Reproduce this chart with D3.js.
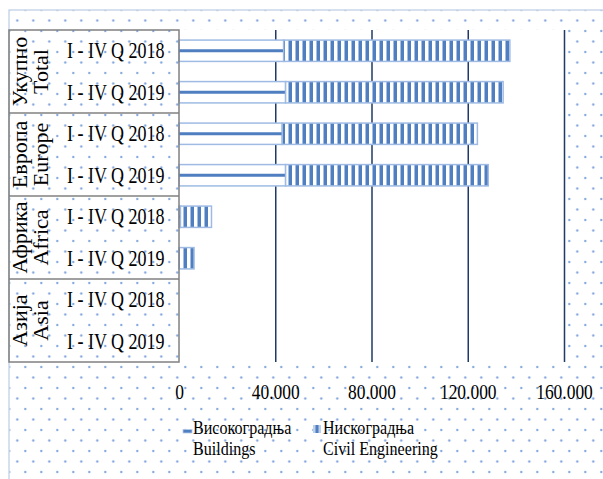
<!DOCTYPE html>
<html>
<head>
<meta charset="utf-8">
<script src="https://cdn.jsdelivr.net/npm/d3@7"></script>
<style>
  body { margin: 0; background: #fff; }
  svg text { font-family: 'Liberation Serif', 'DejaVu Serif', serif !important; fill: #000; }
</style>
</head>
<body>
<div id="chart"></div>
<script>
// data
var groupsSr = ["Укупно", "Европа", "Африка", "Азија"];
var groupsEn = ["Total", "Europe", "Africa", "Asia"];
var periods = ["I - IV Q 2018", "I - IV Q 2019"];
var buildings = [43500, 44300, 42900, 44300, 600, 0, 0, 0];
var civil = [94000, 90400, 81100, 84200, 12900, 6250, 0, 0];
var tickValues = [0, 40000, 80000, 120000, 160000];
var legendSr = ["Високоградња", "Нискоградња"];
var legendEn = ["Buildings", "Civil Engineering"];

var svgWidth = 603;
var svgHeight = 479;

var plot = { left: 179, right: 564, top: 30, bottom: 362 };

var svg = d3.select("#chart")
  .append("svg")
  .attr("width", svgWidth)
  .attr("height", svgHeight)
  .attr("font-family", "Liberation Serif");

var defs = svg.append("defs");

// dotted chart-area background
var dots = defs.append("pattern")
  .attr("id", "dots")
  .attr("patternUnits", "userSpaceOnUse")
  .attr("x", 9.3).attr("y", 10)
  .attr("width", 16).attr("height", 21);
[[0, 0], [16, 0], [0, 21], [16, 21], [8, 10.5]].forEach(function(p) {
  dots.append("circle").attr("cx", p[0]).attr("cy", p[1]).attr("r", 1.2).attr("fill", "#86a8dc");
});

// vertical stripes for civil engineering
var vstripe = defs.append("pattern")
  .attr("id", "vstripe")
  .attr("patternUnits", "userSpaceOnUse")
  .attr("x", 0).attr("y", 0)
  .attr("width", 7).attr("height", 10);
vstripe.append("rect").attr("width", 7).attr("height", 10).attr("fill", "#fff");
vstripe.append("rect").attr("x", 1.5).attr("width", 3.5).attr("height", 10).attr("fill", "#4f7fc0");

svg.append("rect")
  .attr("x", 9).attr("y", 10)
  .attr("width", svgWidth - 9).attr("height", svgHeight - 10)
  .attr("fill", "url(#dots)");

// chart border
svg.append("path")
  .attr("d", "M9," + svgHeight + "V10H" + svgWidth)
  .attr("fill", "none")
  .attr("stroke", "#c9d6ea")
  .attr("stroke-width", 1.5);

// plot area
svg.append("rect")
  .attr("x", plot.left).attr("y", plot.top)
  .attr("width", plot.right - plot.left).attr("height", plot.bottom - plot.top)
  .attr("fill", "#fff");

// build rows
var rows = [];
groupsEn.forEach(function(g, gi) {
  periods.forEach(function(p, pi) {
    var i = gi * 2 + pi;
    rows.push({ key: g + "|" + p, group: gi, period: p, buildings: buildings[i], civil: civil[i] });
  });
});

var xScale = d3.scaleLinear()
  .domain([0, 160000])
  .range([plot.left, plot.right]);

var yScale = d3.scaleBand()
  .domain(rows.map(d => d.key))
  .range([plot.top, plot.bottom])
  .paddingInner(0.45)
  .paddingOuter(0.225);

var step = yScale.step();

var fmt = d3.formatLocale({ decimal: ",", thousands: ".", grouping: [3], currency: ["", ""] }).format(",d");

// gridlines + tick labels
var bottomAxis = d3.axisBottom(xScale)
  .tickValues(tickValues)
  .tickSize(-(plot.bottom - plot.top))
  .tickFormat(fmt);

var axisG = svg.append("g")
  .attr("transform", `translate(0, ${plot.bottom})`)
  .call(bottomAxis)
  .attr("font-family", "Liberation Serif");
axisG.select(".domain").remove();
axisG.selectAll("line")
  .attr("stroke", "#1f3a68")
  .attr("stroke-width", 1.5)
  .filter(d => d === 0).remove();
axisG.selectAll("text")
  .attr("y", null).attr("dy", null)
  .attr("transform", "translate(0,37) scale(0.85,1)")
  .attr("font-size", 20.5)
  .attr("fill", "#000");

// bars: buildings
var bh = yScale.bandwidth();
svg.selectAll(".bld")
  .data(rows.filter(d => d.buildings > 0))
  .enter()
  .append("rect")
  .attr("class", "bld")
  .attr("x", xScale(0))
  .attr("y", d => yScale(d.key) + 0.75)
  .attr("width", d => xScale(d.buildings) - xScale(0))
  .attr("height", bh - 1.5)
  .attr("fill", "#fff")
  .attr("stroke", "#9fbbe3")
  .attr("stroke-width", 1.5);

svg.selectAll(".bldline")
  .data(rows.filter(d => d.buildings > 0))
  .enter()
  .append("rect")
  .attr("class", "bldline")
  .attr("x", xScale(0))
  .attr("y", d => yScale(d.key) + bh / 2 - 1.5)
  .attr("width", d => xScale(d.buildings) - xScale(0))
  .attr("height", 3)
  .attr("fill", "#4f7fc0");

// bars: civil engineering
svg.selectAll(".civ")
  .data(rows.filter(d => d.civil > 0))
  .enter()
  .append("rect")
  .attr("class", "civ")
  .attr("x", d => xScale(d.buildings))
  .attr("y", d => yScale(d.key) + 0.75)
  .attr("width", d => xScale(d.buildings + d.civil) - xScale(d.buildings))
  .attr("height", bh - 1.5)
  .attr("fill", "url(#vstripe)")
  .attr("stroke", "#9fbbe3")
  .attr("stroke-width", 1.5);

// category table
var table = svg.append("g");
table.append("rect")
  .attr("x", 9).attr("y", plot.top)
  .attr("width", plot.left - 9).attr("height", plot.bottom - plot.top)
  .attr("fill", "none")
  .attr("stroke", "#808080")
  .attr("stroke-width", 1.5);

table.selectAll(".sep")
  .data(groupsEn.slice(1))
  .enter()
  .append("line")
  .attr("x1", 9).attr("x2", plot.left)
  .attr("y1", (d, i) => yScale(groupsEn[i + 1] + "|" + periods[0]) - step * 0.225)
  .attr("y2", (d, i) => yScale(groupsEn[i + 1] + "|" + periods[0]) - step * 0.225)
  .attr("stroke", "#808080")
  .attr("stroke-width", 1.5);

table.selectAll(".sub")
  .data(rows)
  .enter()
  .append("text")
  .attr("transform", d => `translate(67, ${yScale(d.key) + bh / 2 + 7.5}) scale(0.8,1)`)
  .attr("font-size", 22.5)
  .text(d => d.period);

var grp = table.selectAll(".grp")
  .data(groupsEn)
  .enter()
  .append("g")
  .attr("transform", (d, i) => `translate(0, ${yScale(d + "|" + periods[0]) - step * 0.225 + step})`);

grp.append("text")
  .attr("transform", "translate(27,0) rotate(-90)")
  .attr("text-anchor", "middle")
  .attr("font-size", 22)
  .text((d, i) => groupsSr[i]);

grp.append("text")
  .attr("transform", "translate(48,0) rotate(-90)")
  .attr("text-anchor", "middle")
  .attr("font-size", 22)
  .text(d => d);

// legend
var legend = svg.append("g");
legend.append("rect")
  .attr("x", 183).attr("y", 429.5).attr("width", 9).attr("height", 3.5)
  .attr("fill", "#4f7fc0").attr("stroke", "#b7cbe9").attr("stroke-width", 0.8);
legend.append("rect")
  .attr("x", 313).attr("y", 425).attr("width", 8).attr("height", 8)
  .attr("fill", "#bcd0ec");
legend.append("rect")
  .attr("x", 315.5).attr("y", 425).attr("width", 3).attr("height", 8)
  .attr("fill", "#4f7fc0");

[193, 323].forEach(function(lx, i) {
  legend.append("text")
    .attr("transform", `translate(${lx}, 434) scale(0.87,1)`)
    .attr("font-size", 18.5)
    .text(legendSr[i]);
  legend.append("text")
    .attr("transform", `translate(${lx}, 455) scale(0.87,1)`)
    .attr("font-size", 18.5)
    .text(legendEn[i]);
});
</script>
</body>
</html>
